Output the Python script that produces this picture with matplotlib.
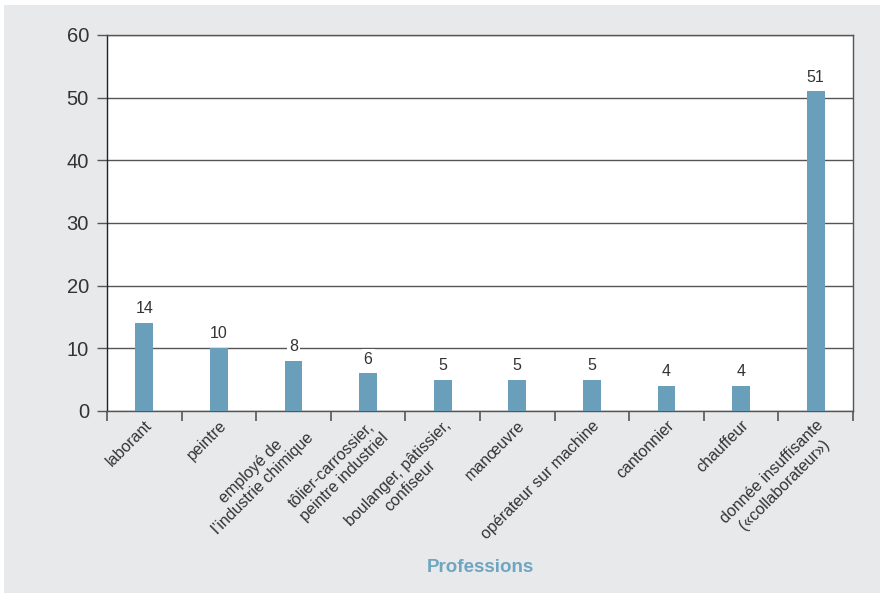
import numpy as np
import matplotlib.pyplot as plt
from matplotlib.patches import Rectangle

plt.rcParams['font.family'] = ['Liberation Sans', 'DejaVu Sans']

professions = [
    'laborant',
    'peintre',
    'employé de\nl\u2019industrie chimique',
    'tôlier-carrossier,\npeintre industriel',
    'boulanger, pâtissier,\nconfiseur',
    'manœuvre',
    'opérateur sur machine',
    'cantonnier',
    'chauffeur',
    'donnée insuffisante\n(«collaborateur»)',
]
counts = [14, 10, 8, 6, 5, 5, 5, 4, 4, 51]
y_ticks = [0, 10, 20, 30, 40, 50, 60]

bar_color = '#699fba'
grid_color = '#555555'
bg_color = '#e8e9eb'

fig = plt.figure(figsize=(8.8, 5.93), dpi=100, facecolor='white')
# grey panel behind the chart, leaving a thin white border top/left
fig.patches.append(Rectangle((4 / 880, 0), 1, 1 - 5 / 593, transform=fig.transFigure,
                             facecolor=bg_color, edgecolor='none', zorder=-10))

ax = fig.add_axes([107 / 880, 1 - 411 / 593, 746 / 880, 376 / 593])
ax.set_facecolor('white')

x = np.arange(len(professions))
ax.bar(x, counts, width=0.24, color=bar_color, zorder=3)

for xi, v in zip(x, counts):
    t = ax.text(xi, v + 1.1, str(v), ha='center', va='bottom', fontsize=11.5,
                color='#333333', zorder=4)
    if v + 1.1 < 10 < v + 4.5:
        t.set_bbox(dict(facecolor='white', edgecolor='none', pad=1.5))

ax.set_xlim(-0.5, len(professions) - 0.5)
ax.set_ylim(0, 60)
ax.set_yticks(y_ticks)
ax.set_yticklabels([str(v) for v in y_ticks], fontsize=14.5, color='#333333')
ax.yaxis.grid(True, color=grid_color, linewidth=1.0, zorder=1)
ax.set_axisbelow(True)

# boundary ticks between categories, labels at the centers
ax.set_xticks(np.arange(len(professions) + 1) - 0.5)
ax.set_xticklabels([])
ax.set_xticks(x, minor=True)
ax.set_xticklabels(professions, minor=True, rotation=45, ha='right',
                   rotation_mode='anchor', fontsize=11.5, color='#333333',
                   multialignment='center')
ax.tick_params(axis='x', which='minor', length=0, pad=5)
ax.tick_params(axis='x', which='major', length=7, width=1.2, color=grid_color)
ax.tick_params(axis='y', length=7, width=1.0, color=grid_color, pad=6)

for side in ['top', 'right', 'bottom']:
    ax.spines[side].set_color(grid_color)
    ax.spines[side].set_linewidth(1.0)
ax.spines['left'].set_color('#222222')
ax.spines['left'].set_linewidth(1.0)

fig.text(480 / 880, 1 - 568 / 593, 'Professions', ha='center', va='center',
         fontsize=13.5, fontweight='bold', color='#6fa5c0')

fig.savefig('out.png', dpi=100, facecolor=fig.get_facecolor())
